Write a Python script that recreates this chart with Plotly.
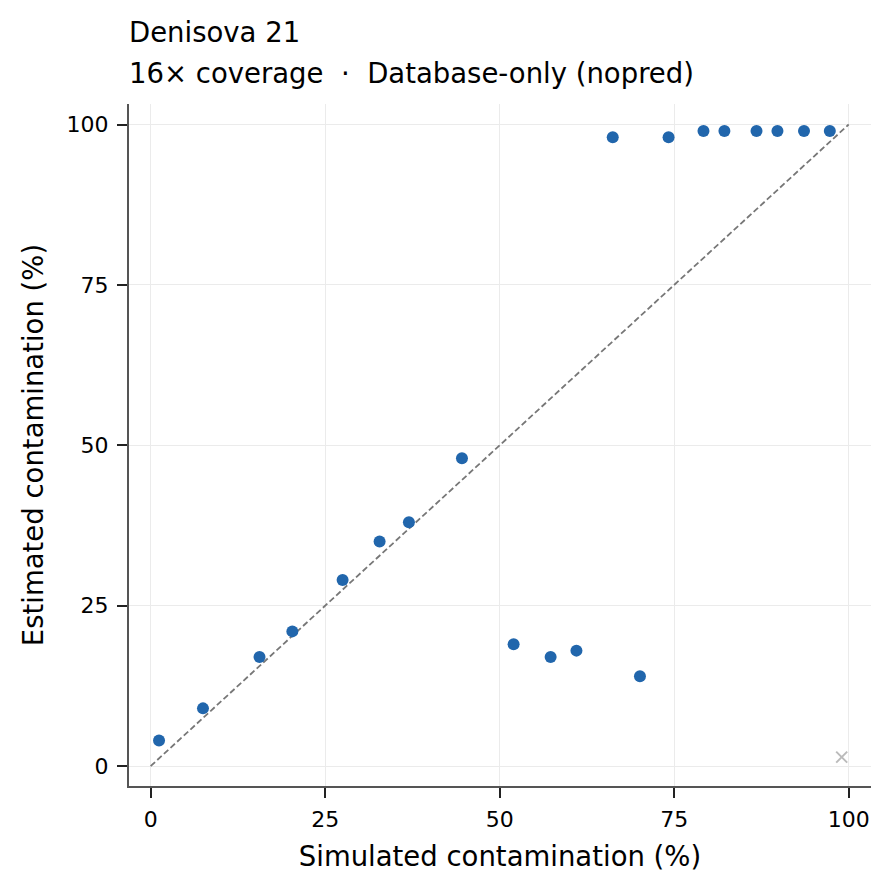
import plotly.graph_objects as go

# simulated vs estimated contamination (%)
simulated = [1.2, 7.5, 15.6, 20.3, 27.5, 32.8, 37.0, 44.6, 52.0, 57.3, 61.0, 70.1,
             66.2, 74.2, 79.2, 82.2, 86.8, 89.8, 93.6, 97.3]
estimated = [4, 9, 17, 21, 29, 35, 38, 48, 19, 17, 18, 14,
             98, 98, 99, 99, 99, 99, 99, 99]
# failed estimate
failed_x = [99.0]
failed_y = [1.4]
ticks = [0, 25, 50, 75, 100]

FONT = 'DejaVu Sans'

fig = go.Figure()
fig.add_trace(go.Scatter(
    x=[0, 100], y=[0, 100], mode='lines',
    line=dict(color='#777777', width=1.8, dash='6px,3px'),
    hoverinfo='skip', showlegend=False
))
fig.add_trace(go.Scatter(
    x=simulated, y=estimated, mode='markers',
    marker=dict(color='#2166ac', size=12),
    showlegend=False
))
fig.add_trace(go.Scatter(
    x=failed_x, y=failed_y, mode='markers',
    marker=dict(color='#bbbbbb', size=11, symbol='x-thin',
                line=dict(color='#bbbbbb', width=2)),
    showlegend=False
))

axis = dict(
    range=[-3.1, 103.2], tickvals=ticks, showgrid=True, gridcolor='#ebebeb',
    gridwidth=1.2, zeroline=False, showline=True, linecolor='#555555', linewidth=2,
    ticks='outside', ticklen=10, tickwidth=2, tickcolor='#222222',
    tickfont=dict(family=FONT, size=22, color='black'), automargin=False,
)
# page body has an 8px margin, so the figure is shrunk by that amount
fig.update_layout(
    width=886, height=885,
    margin=dict(l=121, r=23, t=96, b=107),
    plot_bgcolor='white', paper_bgcolor='white',
    font=dict(family=FONT, color='black'),
    xaxis=dict(axis, ticklabelstandoff=3,
               title=dict(text='Simulated contamination (%)',
                          font=dict(size=27.5), standoff=15)),
    yaxis=dict(axis, ticklabelstandoff=4,
               title=dict(text='Estimated contamination (%)',
                          font=dict(size=27.5), standoff=15)),
    annotations=[
        dict(text='Denisova 21', xref='paper', yref='paper', x=0, y=1,
             xanchor='left', yanchor='bottom', yshift=54, xshift=-2,
             showarrow=False, font=dict(size=27.5)),
        dict(text='16× coverage  ·  Database-only (nopred)', xref='paper',
             yref='paper', x=0, y=1, xanchor='left', yanchor='bottom',
             yshift=13, xshift=-2, showarrow=False, font=dict(size=27.5)),
    ],
)
fig.write_html('out.html')
